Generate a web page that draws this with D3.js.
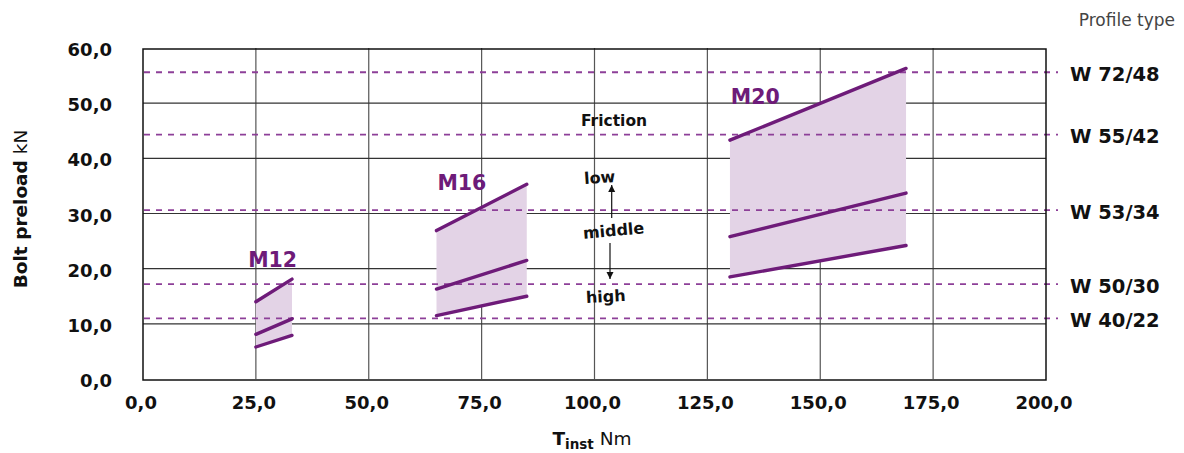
<!DOCTYPE html>
<html>
<head>
<meta charset="utf-8">
<script src="https://cdn.jsdelivr.net/npm/d3@7"></script>
<style>
    body { margin: 0; background: #fff; }
    svg { display: block; font-family: "DejaVu Sans", sans-serif; }
</style>
</head>
<body>
<div id="chart"></div>
<script>
// data
const bolts = ['M12', 'M16', 'M20'];
const torqueRange = [[25, 33], [65, 85], [130, 169]];
// preload (kN) at start / end of torque range, per friction level
const preloadLow = [[14.0, 18.1], [26.9, 35.3], [43.3, 56.3]];
const preloadMiddle = [[8.1, 10.9], [16.3, 21.5], [25.8, 33.7]];
const preloadHigh = [[5.8, 7.9], [11.5, 15.0], [18.5, 24.2]];

const profileTypes = ['W 72/48', 'W 55/42', 'W 53/34', 'W 50/30', 'W 40/22'];
const profilePreload = [55.6, 44.3, 30.6, 17.2, 11.0];

const xTicks = [0, 25, 50, 75, 100, 125, 150, 175, 200];
const yTicks = [0, 10, 20, 30, 40, 50, 60];

// colours
const LINE_COLOR = '#6e1b79';
const FILL_COLOR = '#e3d3e6';
const DASH_COLOR = '#8d3f98';
const GRID_COLOR = '#333';

const W = 1184;
const H = 453;

const svg = d3.select('#chart')
    .append('svg')
    .attr('width', W)
    .attr('height', H);

const x = d3.scaleLinear().domain([0, 200]).range([143, 1046]);
const y = d3.scaleLinear().domain([0, 60]).range([379, 48]);

const fmt = v => d3.format('.1f')(v).replace('.', ',');

// grid
svg.append('g')
    .selectAll('line')
    .data(xTicks.slice(1, -1))
    .join('line')
    .attr('x1', d => x(d))
    .attr('x2', d => x(d))
    .attr('y1', y(60))
    .attr('y2', y(0))
    .attr('stroke', '#555')
    .attr('stroke-width', 1.2);

svg.append('g')
    .selectAll('line')
    .data(yTicks.slice(1, -1))
    .join('line')
    .attr('x1', x(0))
    .attr('x2', x(200))
    .attr('y1', d => y(d))
    .attr('y2', d => y(d))
    .attr('stroke', GRID_COLOR)
    .attr('stroke-width', 1.2);

// bands
const line = d3.line().x(d => x(d[0])).y(d => y(d[1]));

bolts.forEach((b, i) => {
    const [t0, t1] = torqueRange[i];
    const poly = [
        [t0, preloadLow[i][0]], [t1, preloadLow[i][1]],
        [t1, preloadHigh[i][1]], [t0, preloadHigh[i][0]],
    ];
    svg.append('path')
        .attr('d', line(poly) + 'Z')
        .attr('fill', FILL_COLOR);
});

// profile type dashed lines
svg.append('g')
    .selectAll('line')
    .data(profilePreload)
    .join('line')
    .attr('x1', x(0) + 1)
    .attr('x2', x(200) + 12)
    .attr('y1', d => y(d))
    .attr('y2', d => y(d))
    .attr('stroke', DASH_COLOR)
    .attr('stroke-width', 1.8)
    .attr('stroke-dasharray', '6 6');

bolts.forEach((b, i) => {
    const [t0, t1] = torqueRange[i];
    [preloadLow, preloadMiddle, preloadHigh].forEach((s) => {
        svg.append('path')
            .attr('d', line([[t0, s[i][0]], [t1, s[i][1]]]))
            .attr('stroke', LINE_COLOR)
            .attr('stroke-width', 3.4)
            .attr('stroke-linecap', 'round')
            .attr('fill', 'none');
    });
});

// frame
svg.append('rect')
    .attr('x', x(0))
    .attr('y', y(60) + 1)
    .attr('width', x(200) - x(0))
    .attr('height', y(0) - y(60))
    .attr('fill', 'none')
    .attr('stroke', '#111')
    .attr('stroke-width', 1.5);

// axes labels
svg.append('g')
    .selectAll('text')
    .data(yTicks)
    .join('text')
    .attr('x', 112)
    .attr('y', d => y(d) + 3)
    .attr('text-anchor', 'end')
    .attr('dominant-baseline', 'middle')
    .attr('font-size', 18)
    .attr('font-weight', 'bold')
    .attr('fill', '#111')
    .text(fmt);

svg.append('g')
    .selectAll('text')
    .data(xTicks)
    .join('text')
    .attr('x', d => x(d) - 2)
    .attr('y', 409)
    .attr('text-anchor', 'middle')
    .attr('font-size', 18)
    .attr('font-weight', 'bold')
    .attr('fill', '#111')
    .text(fmt);

// axis titles
const yTitle = svg.append('text')
    .attr('transform', 'translate(27,209) rotate(-90)')
    .attr('text-anchor', 'middle')
    .attr('font-size', 18.5)
    .attr('fill', '#111');
yTitle.append('tspan').attr('font-weight', 'bold').text('Bolt preload');
yTitle.append('tspan').text(' kN');

const xTitle = svg.append('text')
    .attr('x', 592)
    .attr('y', 445)
    .attr('text-anchor', 'middle')
    .attr('font-size', 18.5)
    .attr('fill', '#111');
xTitle.append('tspan').attr('font-weight', 'bold').text('T');
xTitle.append('tspan').attr('font-weight', 'bold').attr('font-size', 13.5).attr('dy', 4).text('inst');
xTitle.append('tspan').attr('dy', -4).text(' Nm');

// profile type labels
svg.append('text')
    .attr('x', 1175)
    .attr('y', 26)
    .attr('text-anchor', 'end')
    .attr('font-size', 17)
    .attr('fill', '#444')
    .text('Profile type');

svg.append('g')
    .selectAll('text')
    .data(profileTypes)
    .join('text')
    .attr('x', 1070)
    .attr('y', (d, i) => y(profilePreload[i]) + 3)
    .attr('dominant-baseline', 'middle')
    .attr('font-size', 19.5)
    .attr('font-weight', 'bold')
    .attr('fill', '#111')
    .text(d => d);

// bolt labels (anchor in data coords)
const boltLabelPos = [[23.3, 20.3], [65.2, 34.3], [130.2, 49.8]];
svg.append('g')
    .selectAll('text')
    .data(bolts)
    .join('text')
    .attr('x', (d, i) => x(boltLabelPos[i][0]))
    .attr('y', (d, i) => y(boltLabelPos[i][1]))
    .attr('font-size', 20.5)
    .attr('font-weight', 'bold')
    .attr('fill', LINE_COLOR)
    .text(d => d);

// friction annotation
const ann = svg.append('g')
    .attr('font-size', 15.5)
    .attr('font-weight', 'bold')
    .attr('fill', '#111')
    .attr('text-anchor', 'middle');

ann.append('text')
    .attr('x', 614)
    .attr('y', 126)
    .text('Friction');

[['low', 600, 183, -4], ['middle', 614, 236, -5], ['high', 606, 302, -3]].forEach(([t, tx, ty, r]) => {
    ann.append('text')
        .attr('transform', `translate(${tx},${ty}) rotate(${r})`)
        .attr('font-size', 16)
        .text(t);
});

svg.append('defs')
    .append('marker')
    .attr('id', 'arr')
    .attr('viewBox', '0 0 10 10')
    .attr('refX', 10)
    .attr('refY', 5)
    .attr('markerWidth', 7)
    .attr('markerHeight', 8)
    .attr('markerUnits', 'userSpaceOnUse')
    .attr('orient', 'auto')
    .append('path')
    .attr('d', 'M0,0L10,5L0,10Z')
    .attr('fill', '#111');

[[611.7, 218, 611.7, 185], [610, 243, 610, 279]].forEach(([a, b, c, d]) => {
    svg.append('line')
        .attr('x1', a).attr('y1', b)
        .attr('x2', c).attr('y2', d)
        .attr('stroke', '#111')
        .attr('stroke-width', 1.2)
        .attr('marker-end', 'url(#arr)');
});
</script>
</body>
</html>
